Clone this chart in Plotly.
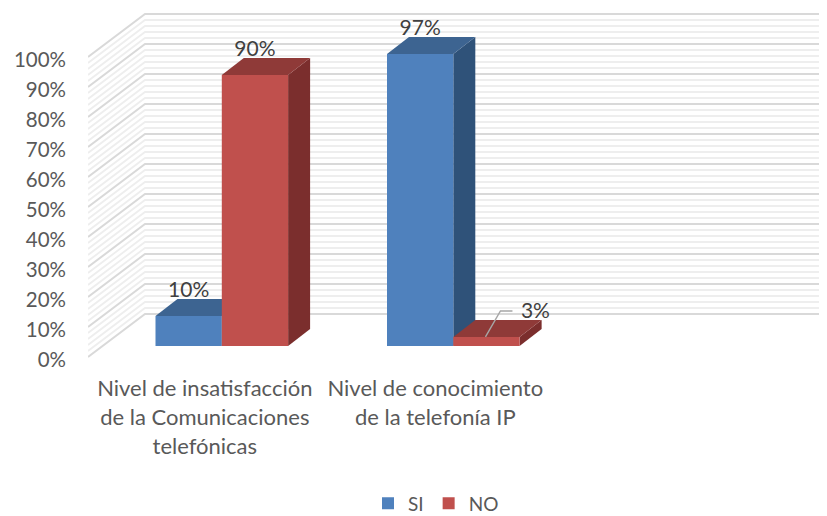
import plotly.graph_objects as go

categories = ["Nivel de insatisfacción<br>de la Comunicaciones<br>telefónicas",
              "Nivel de conocimiento<br>de la telefonía IP"]
si_values = [10, 97]
no_values = [90, 3]
value_ticks = list(range(0, 101, 10))
tick_text = [f"{v}%" for v in value_ticks]

PAGE = 8                      # default page margin round the plot
W, H = 827 - PAGE, 540 - PAGE # a little taller than the window, to leave room for the legend box
FONT = "Lato, 'Open Sans', sans-serif"
PLOT_L, PLOT_BOTTOM = 88 - PAGE, 362 - PAGE
C0, CSTEP = 221.8 - PAGE, 231.5      # px of category 0 and px per category
PX_Y = 3.0                    # px per percent on the wall axis
PX_Y_BAR = 3.01               # px per percent on the bar plane
ZERO_WALL, ZERO_BAR = 357 - PAGE, 346 - PAGE
BAR_W = 66.3 / CSTEP
WALL_DX, WALL_DY = 57 / CSTEP, 43 / PX_Y
BAR_DX, BAR_DY = 22 / CSTEP, 17 / PX_Y_BAR
TICK_NUDGE = 2.5 / PX_Y       # tick labels sit slightly below their grid lines
LEGEND_PX_Y = 503.5 - PAGE

x_range = [(PLOT_L - C0) / CSTEP, (W - C0) / CSTEP]
y_range = [(ZERO_WALL - PLOT_BOTTOM) / PX_Y, ZERO_WALL / PX_Y]
y_bar_range = [(ZERO_BAR - PLOT_BOTTOM) / PX_Y_BAR, ZERO_BAR / PX_Y_BAR]

series = [
    dict(name="SI", values=si_values, offset=-BAR_W / 2,
         front="#4f81bd", top="#3d6491", side="#2f5279"),
    dict(name="NO", values=no_values, offset=BAR_W / 2,
         front="#c0504d", top="#8f3a38", side="#7b2e2d"),
]

fig = go.Figure()


def line(xs, ys, color, width, yaxis="y"):
    fig.add_trace(go.Scatter(x=xs, y=ys, mode="lines", yaxis=yaxis, showlegend=False,
                             hoverinfo="skip", line=dict(color=color, width=width)))


# Invisible trace that brings the main value axis to life
fig.add_trace(go.Scatter(x=[0], y=[0], mode="markers", marker=dict(opacity=0),
                         showlegend=False, hoverinfo="skip"))

# Perspective walls: minor lines, then major lines
for v10 in range(0, 100, 10):
    for step in (2, 4, 6, 8):
        v = v10 + step
        line([x_range[0], x_range[0] + WALL_DX, x_range[1]],
             [v, v + WALL_DY, v + WALL_DY], "#eeeeee", 1.8)
for v in value_ticks:
    line([x_range[0], x_range[0] + WALL_DX, x_range[1]],
         [v, v + WALL_DY, v + WALL_DY], "#d9d9d9", 2)

# Bar side and top faces, back series first
for s in series:
    for i, val in enumerate(s["values"]):
        cx = i + s["offset"]
        l, r = cx - BAR_W / 2, cx + BAR_W / 2
        fig.add_trace(go.Scatter(
            x=[r, r + BAR_DX, r + BAR_DX, r, r],
            y=[0, BAR_DY, val + BAR_DY, val, 0],
            yaxis="y2", mode="lines", fill="toself", fillcolor=s["side"],
            line=dict(width=0), showlegend=False, hoverinfo="skip"))
        fig.add_trace(go.Scatter(
            x=[l, r, r + BAR_DX, l + BAR_DX, l],
            y=[val, val, val + BAR_DY, val + BAR_DY, val],
            yaxis="y2", mode="lines", fill="toself", fillcolor=s["top"],
            line=dict(width=0), showlegend=False, hoverinfo="skip"))

# Bar fronts
for s in series:
    fig.add_trace(go.Bar(x=[0, 1], y=s["values"], name=s["name"], yaxis="y3",
                         marker=dict(color=s["front"], line=dict(width=0)),
                         hovertemplate="%{y}%<extra>" + s["name"] + "</extra>"))

# Data labels
LABEL_DY = 24.5 / PX_Y_BAR
LEADER_DY = 26 / PX_Y_BAR
OUT_DX = 49 / CSTEP
label_x, label_y, label_t = [], [], []
for s in series:
    for i, val in enumerate(s["values"]):
        moved = val < 5
        label_x.append(i + s["offset"] + (OUT_DX if moved else 0))
        label_y.append(val + LABEL_DY)
        label_t.append(f"{val}%")
        if moved:
            cx = i + s["offset"]
            line([cx - 1 / CSTEP, cx + 14 / CSTEP, cx + 26 / CSTEP],
                 [val, val + LEADER_DY, val + LEADER_DY], "#a6a6a6", 1.4, yaxis="y3")
fig.add_trace(go.Scatter(x=label_x, y=label_y, text=label_t, mode="text", yaxis="y3",
                         textposition="middle center", showlegend=False, hoverinfo="skip",
                         textfont=dict(family=FONT, size=21, color="#404040")))

fig.update_layout(
    width=W, height=H, autosize=False, paper_bgcolor="white", plot_bgcolor="white",
    margin=dict(l=PLOT_L, r=0, t=0, b=H - PLOT_BOTTOM, pad=0),
    barmode="group", bargap=1 - 2 * BAR_W, bargroupgap=0,
    font=dict(family=FONT, size=20, color="#595959"),
    xaxis=dict(range=x_range, showgrid=False, zeroline=False, showline=False,
               tickmode="array", tickvals=[-17 / CSTEP, 1 - 18 / CSTEP], ticktext=categories,
               ticks="outside", ticklen=7, tickcolor="rgba(0,0,0,0)", tickangle=0,
               tickfont=dict(family=FONT, size=22, color="#595959")),
    yaxis=dict(range=y_range, showgrid=False, zeroline=False, showline=False,
               tickmode="array", tickvals=[v - TICK_NUDGE for v in value_ticks],
               ticktext=tick_text, ticks="", ticklabelstandoff=21,
               tickfont=dict(family=FONT, size=20.5, color="#595959")),
    yaxis2=dict(range=y_bar_range, overlaying="y", visible=False),
    yaxis3=dict(range=y_bar_range, overlaying="y", visible=False),
    legend=dict(orientation="h", x=(368 - PAGE - PLOT_L) / (W - PLOT_L), xanchor="left",
                y=-(LEGEND_PX_Y - PLOT_BOTTOM) / PLOT_BOTTOM, yref="paper", yanchor="middle",
                font=dict(family=FONT, size=19, color="#595959")),
)
fig.write_html("out.html")
